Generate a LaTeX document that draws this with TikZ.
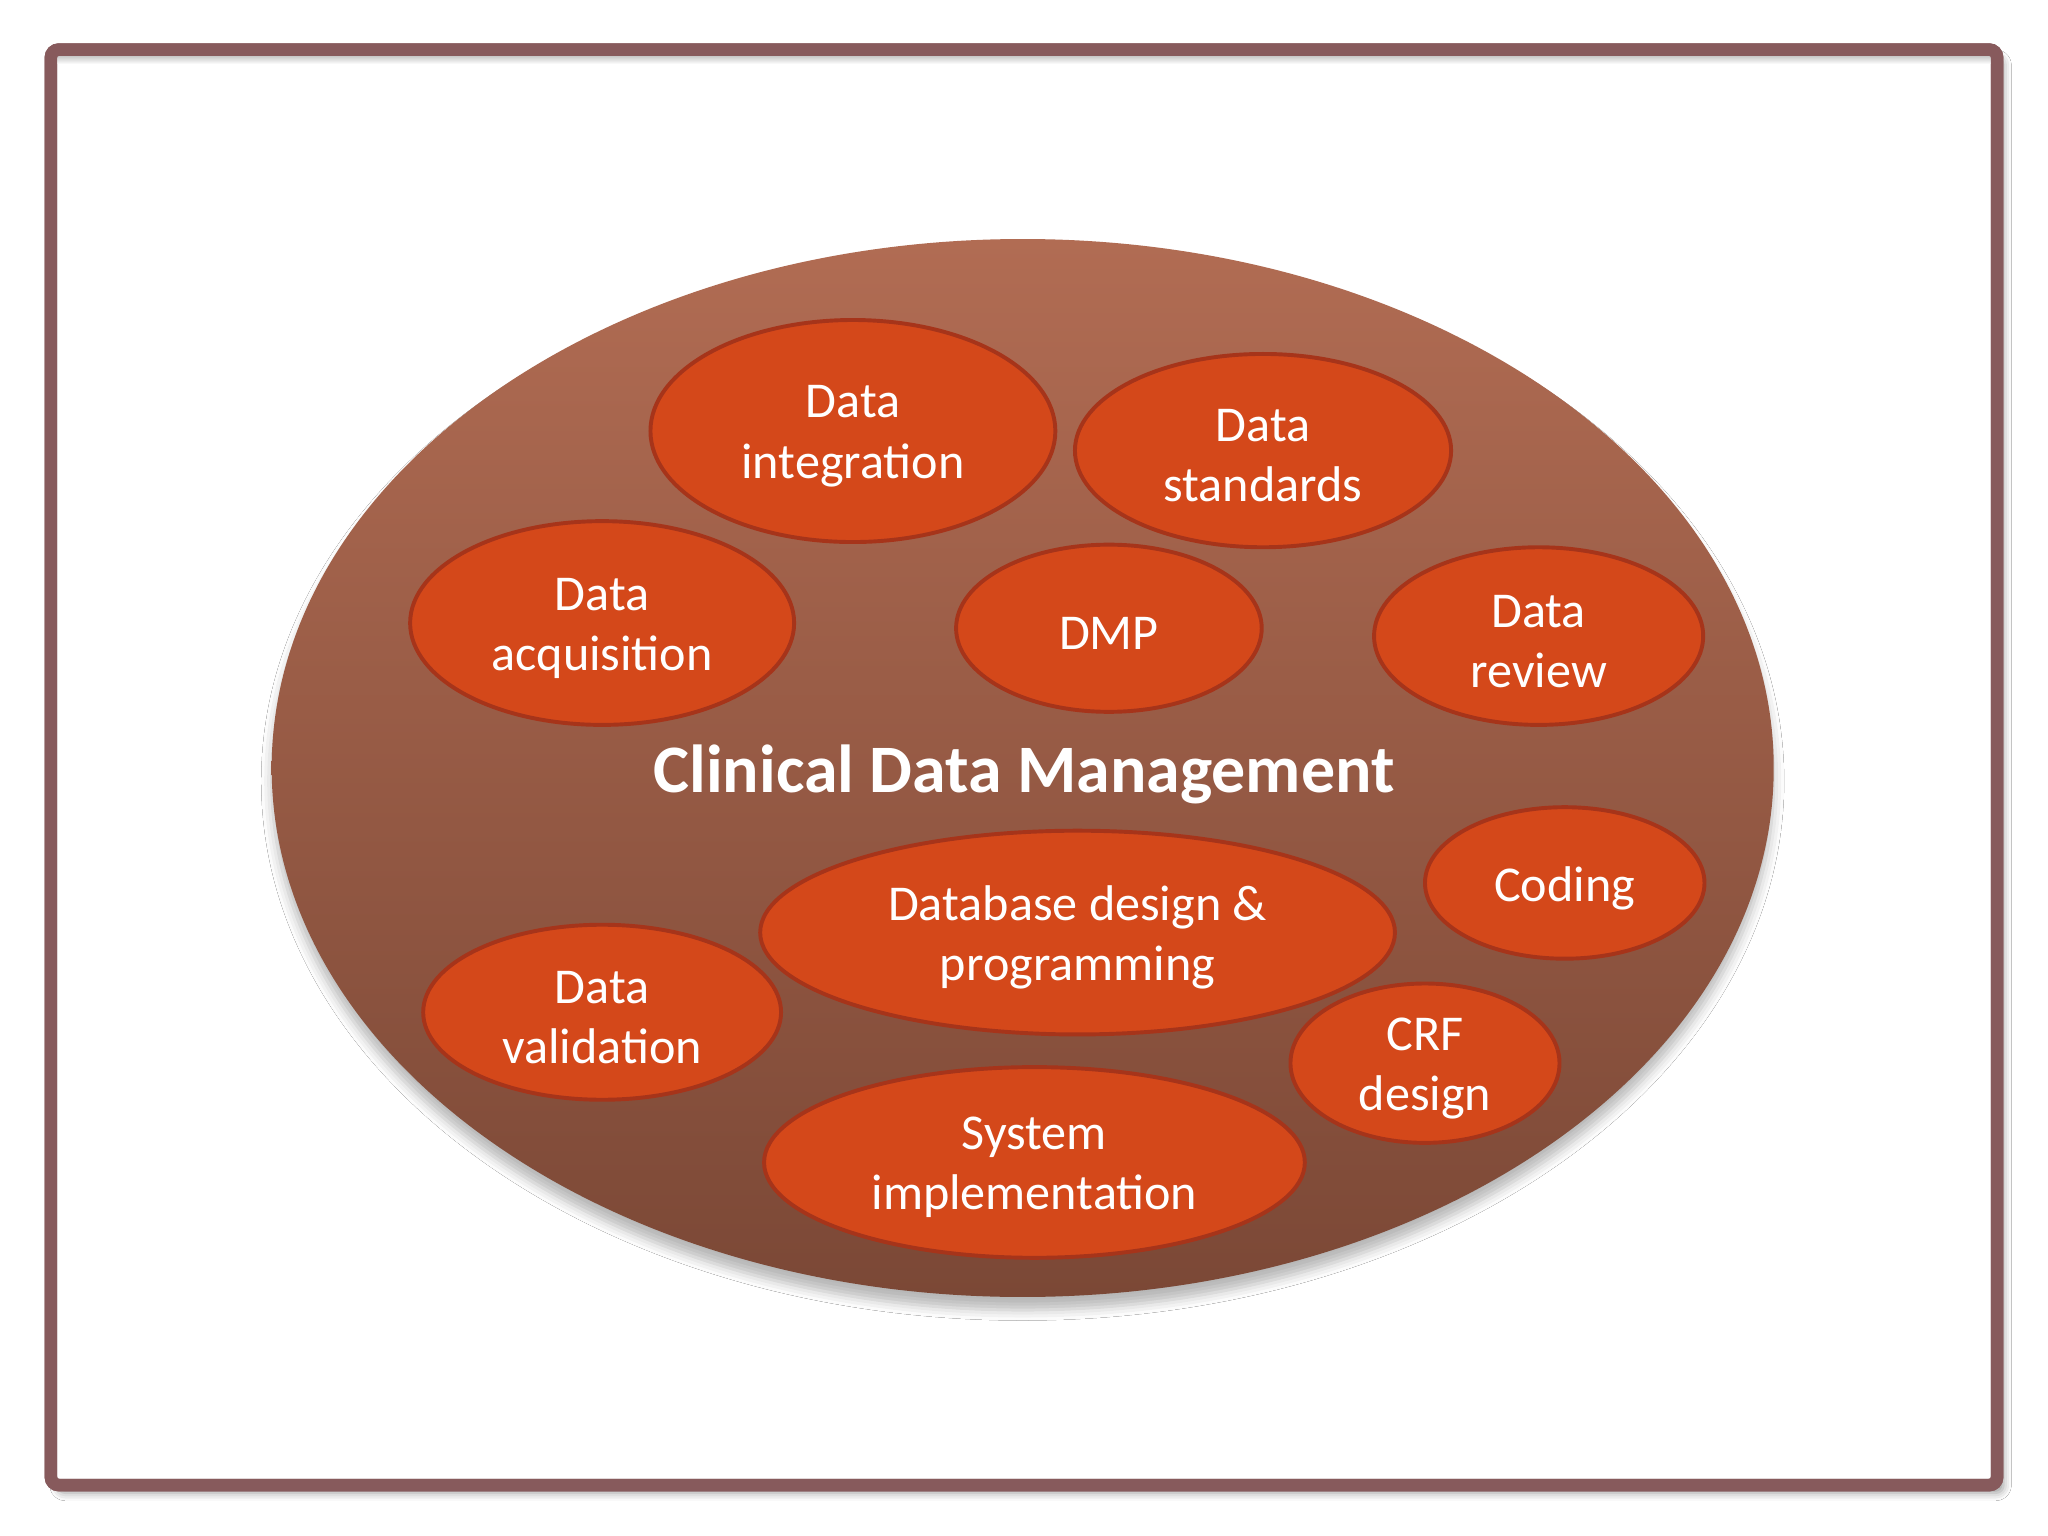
\documentclass[tikz,border=0pt]{standalone}
\usepackage{fontspec}
\setmainfont{Carlito}
\usetikzlibrary{shapes.geometric,shadows.blur}
\definecolor{frameC}{HTML}{875A5C}
\definecolor{bigTop}{HTML}{B16C53}
\definecolor{bigBot}{HTML}{7B4836}
\definecolor{smallFill}{HTML}{D4481A}
\definecolor{smallDraw}{HTML}{A6341A}
\begin{document}
\begin{tikzpicture}[x=0.5pt,y=-0.5pt,
  item/.style={ellipse, fill=smallFill, draw=smallDraw, line width=1.5pt, inner sep=0pt},
  lbl/.style={text=white, align=center, inner sep=0pt, yshift=-2pt,
    font=\fontsize{19.2}{23}\selectfont},
  bigell/.style={ellipse, inner sep=0pt, top color=bigTop, bottom color=bigBot,
    blur shadow={shadow xshift=0pt, shadow yshift=-5pt, shadow blur radius=4pt, shadow opacity=28}},
  title/.style={text=white, inner sep=0pt, font=\fontsize{26}{30}\selectfont\bfseries},
  framebox/.style={draw=frameC, line width=4.8pt, rounded corners=3pt, fill=white,
    blur shadow={shadow xshift=2.5pt, shadow yshift=-3pt, shadow blur radius=3pt, shadow opacity=40}}
]
\useasboundingbox (0,0) rectangle (1568,1176);
\fill[white] (0,0) rectangle (1568,1176);
% frame
\path[framebox] (39,38) rectangle (1529,1137);
\shade[top color=black!30, bottom color=white] (41.5,40.5) rectangle (1526.5,49);
\draw[frameC, line width=4.8pt, rounded corners=3pt] (39,38) rectangle (1529,1137);
% big ellipse
\node[bigell, minimum width=575pt, minimum height=405pt] (cdm) at (783,588) {};
\node[title] (cdmt) at (784,593) {Clinical Data Management};
% small ellipses
\node[item, minimum width=155pt, minimum height=85pt, label={[lbl]center:Data\\integration}] (di) at (653,330) {};
\node[item, minimum width=144pt, minimum height=74pt, label={[lbl]center:Data\\standards}] (ds) at (967,345) {};
\node[item, minimum width=147pt, minimum height=78pt, label={[lbl]center:Data\\acquisition}] (da) at (461,477) {};
\node[item, minimum width=117pt, minimum height=64pt, label={[lbl]center:DMP}] (dmp) at (849,481) {};
\node[item, minimum width=126pt, minimum height=68pt, label={[lbl]center:Data\\review}] (dr) at (1178,487) {};
\node[item, minimum width=107pt, minimum height=58pt, label={[lbl]center:Coding}] (cod) at (1198,676) {};
\node[item, minimum width=243pt, minimum height=78pt, label={[lbl]center:Database design \&\\programming}] (ddp) at (825,714) {};
\node[item, minimum width=137pt, minimum height=67pt, label={[lbl]center:Data\\validation}] (dv) at (461,775) {};
\node[item, minimum width=103pt, minimum height=61pt, label={[lbl]center:CRF\\design}] (crf) at (1091,814) {};
\node[item, minimum width=207pt, minimum height=73pt, label={[lbl]center:System\\implementation}] (si) at (792,890) {};
\end{tikzpicture}
\end{document}
